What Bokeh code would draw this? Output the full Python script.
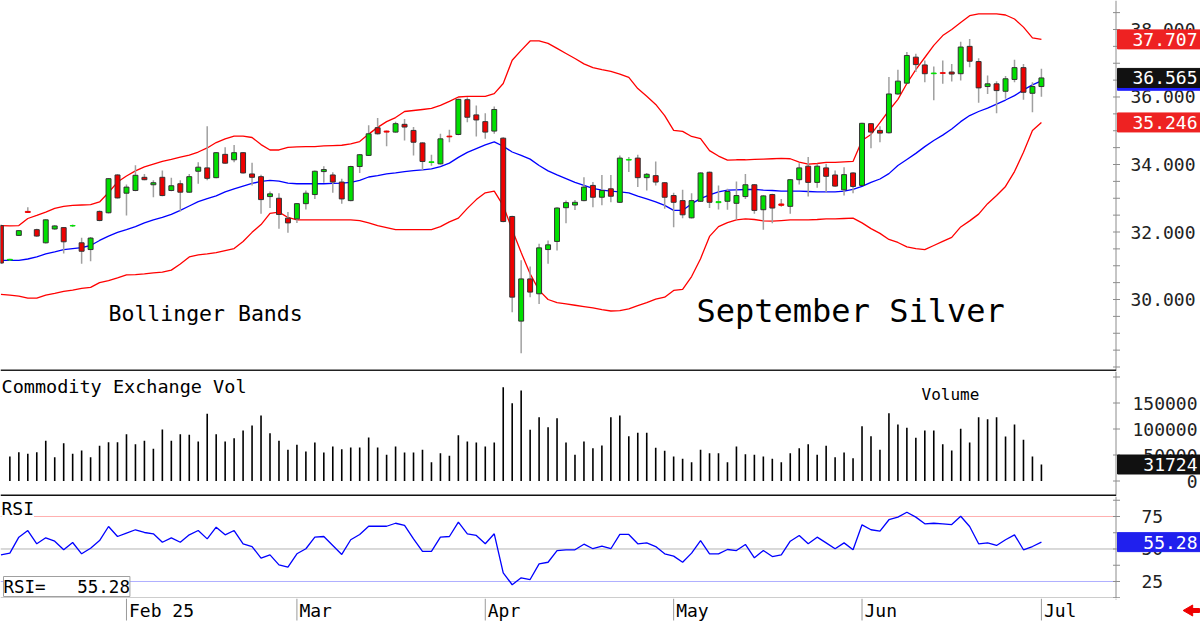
import math
from bokeh.plotting import figure
from bokeh.layouts import column
from bokeh.models import Range1d, Label, ColumnDataSource
from bokeh.core.properties import value
from bokeh.embed import file_html
from bokeh.resources import INLINE

NAN = float("nan")

# ---------------- data ----------------
opens = [32.19, 31.17, 31.90, 32.61, 32.07, 31.68, 32.09, 32.13, 32.18, 31.68,
         31.48, 32.61, 32.57, 33.69, 33.15, 33.23, 33.62, 33.40, 33.62, 33.23,
         33.43, 33.18, 33.80, 33.90, 33.61, 34.30, 34.14, 34.35, 33.72, 33.64,
         33.05, 33.00, 32.41, 32.39, 32.84, 33.11, 33.79, 33.69, 33.48, 32.93,
         33.94, 34.27, 35.09, 34.99, 34.96, 35.19, 35.01, 34.64, 34.06, 34.02,
         34.84, 34.89, 35.92, 35.47, 35.27, 34.99, 34.78, 32.46, 29.36, 30.61,
         30.17, 31.48, 31.72, 32.72, 32.80, 32.93, 33.38, 33.03, 33.28, 32.88,
         34.13, 34.19, 33.61, 33.67, 33.46, 33.08, 32.93, 32.42, 32.91, 33.77,
         32.87, 32.91, 32.85, 33.05, 33.40, 32.66, 33.11, 32.83, 32.76, 33.55,
         33.95, 33.47, 33.90, 33.69, 33.25, 33.75, 33.38, 35.21, 35.01, 34.94,
         36.09, 36.41, 37.18, 36.95, 36.69, 36.72, 36.74, 36.69, 37.50, 37.05,
         36.31, 36.39, 36.17, 36.52, 36.87, 36.11, 36.31]
highs = [32.22, 31.21, 32.06, 32.73, 32.10, 32.38, 32.20, 32.15, 32.22, 31.83,
         31.85, 32.64, 33.60, 33.71, 33.41, 33.98, 33.72, 33.53, 33.82, 33.61,
         33.53, 33.72, 34.07, 35.13, 34.37, 34.51, 34.58, 34.37, 34.05, 33.70,
         33.20, 33.15, 32.59, 32.86, 33.23, 33.82, 33.95, 33.77, 33.58, 33.96,
         34.31, 35.16, 35.38, 35.01, 35.27, 35.35, 35.11, 34.66, 34.29, 34.91,
         35.03, 35.95, 35.99, 35.75, 35.52, 35.72, 34.81, 32.48, 31.16, 30.98,
         31.65, 31.75, 32.73, 32.93, 32.95, 33.62, 33.48, 33.69, 33.69, 34.27,
         34.22, 34.29, 33.75, 34.09, 33.48, 33.16, 33.25, 33.15, 33.77, 33.79,
         33.38, 33.28, 33.50, 33.72, 33.42, 33.09, 33.13, 32.98, 33.57, 34.04,
         34.22, 34.02, 34.02, 33.82, 33.92, 33.77, 35.24, 35.23, 35.13, 36.59,
         36.81, 37.33, 37.28, 37.08, 36.90, 37.08, 36.98, 37.64, 37.72, 37.15,
         36.64, 36.47, 36.62, 37.10, 36.98, 36.44, 36.84]
lows = [31.05, 31.15, 31.88, 32.56, 31.86, 31.66, 32.07, 31.36, 32.15, 31.06,
        31.13, 32.32, 32.55, 32.99, 32.49, 33.21, 33.53, 33.03, 33.06, 33.21,
        32.61, 33.16, 33.43, 33.53, 33.59, 34.02, 34.07, 33.73, 33.38, 32.54,
        32.71, 32.10, 31.98, 32.27, 32.67, 32.98, 33.46, 33.16, 32.84, 32.91,
        33.75, 34.25, 34.89, 34.54, 34.94, 34.71, 34.27, 33.82, 33.96, 34.00,
        34.66, 34.87, 35.25, 34.83, 34.76, 34.91, 32.29, 29.62, 28.41, 30.07,
        29.87, 31.06, 31.45, 32.26, 32.65, 32.91, 32.73, 32.79, 32.88, 32.86,
        33.78, 33.33, 33.23, 33.38, 32.69, 32.14, 32.41, 32.40, 32.89, 32.71,
        32.67, 32.66, 32.36, 32.98, 32.54, 32.07, 32.26, 32.75, 32.54, 33.41,
        33.05, 33.31, 33.18, 33.34, 33.08, 33.15, 33.36, 34.48, 34.66, 34.92,
        36.07, 36.39, 36.74, 36.44, 35.90, 36.39, 36.46, 36.49, 36.88, 35.83,
        36.09, 35.52, 35.95, 36.44, 35.92, 35.55, 36.01]
closes = [31.08, 31.19, 32.04, 32.58, 31.88, 32.36, 32.18, 31.71, 32.19, 31.43,
          31.82, 32.34, 33.58, 33.01, 33.33, 33.68, 33.55, 33.46, 33.08, 33.37,
          33.18, 33.64, 33.92, 33.59, 34.35, 34.04, 34.35, 33.75, 33.62, 32.96,
          33.13, 32.52, 32.27, 32.84, 33.15, 33.80, 33.85, 33.48, 32.98, 33.94,
          34.29, 34.91, 34.91, 34.96, 35.21, 35.11, 34.66, 34.09, 34.08, 34.76,
          34.82, 35.93, 35.40, 35.32, 34.96, 35.63, 32.31, 30.07, 30.61, 30.22,
          31.53, 31.62, 32.71, 32.87, 32.88, 33.33, 33.03, 33.23, 33.06, 34.19,
          34.15, 33.61, 33.71, 33.48, 33.03, 32.88, 32.51, 32.93, 33.75, 32.88,
          32.90, 33.20, 33.08, 33.40, 32.64, 33.07, 32.71, 32.79, 33.55, 33.90,
          33.47, 33.95, 33.65, 33.36, 33.70, 33.35, 35.22, 34.96, 34.93, 36.09,
          36.47, 37.23, 36.96, 36.69, 36.71, 36.70, 36.68, 37.48, 37.06, 36.27,
          36.39, 36.19, 36.54, 36.87, 36.14, 36.31, 36.565]

bb_upper = [32.19, 32.18, 32.19, 32.40, 32.49, 32.59, 32.70, 32.76, 32.79, 32.80,
            32.81, 32.89, 33.17, 33.48, 33.66, 33.81, 33.93, 34.01, 34.09, 34.15,
            34.22, 34.28, 34.37, 34.49, 34.65, 34.76, 34.84, 34.84, 34.80, 34.59,
            34.43, 34.43, 34.51, 34.52, 34.53, 34.53, 34.55, 34.56, 34.57, 34.61,
            34.68, 34.90, 35.10, 35.27, 35.39, 35.57, 35.60, 35.63, 35.66, 35.75,
            35.87, 36.00, 36.02, 36.02, 36.02, 36.10, 36.40, 37.09, 37.38, 37.66,
            37.66, 37.59, 37.44, 37.29, 37.14, 36.98, 36.87, 36.81, 36.76, 36.68,
            36.58, 36.25, 36.02, 35.78, 35.45, 35.01, 34.98, 34.83, 34.77, 34.41,
            34.25, 34.13, 34.14, 34.14, 34.15, 34.16, 34.17, 34.18, 34.17, 34.07,
            34.01, 34.03, 34.06, 34.06, 34.08, 34.09, 34.71, 34.89, 35.24, 35.60,
            35.93, 36.40, 36.81, 37.17, 37.53, 37.82, 38.00, 38.21, 38.41, 38.46,
            38.46, 38.46, 38.43, 38.31, 38.07, 37.75, 37.707]
bb_mid = [31.16, 31.16, 31.16, 31.20, 31.26, 31.35, 31.41, 31.48, 31.51, 31.54,
          31.60, 31.75, 31.88, 31.99, 32.07, 32.16, 32.27, 32.36, 32.43, 32.52,
          32.64, 32.77, 32.90, 32.99, 33.07, 33.19, 33.28, 33.36, 33.44, 33.50,
          33.53, 33.51, 33.45, 33.43, 33.43, 33.43, 33.43, 33.44, 33.45, 33.47,
          33.53, 33.63, 33.67, 33.72, 33.75, 33.79, 33.82, 33.84, 33.87, 33.94,
          34.04, 34.21, 34.36, 34.47, 34.58, 34.67, 34.54, 34.37, 34.27, 34.16,
          33.97, 33.81, 33.69, 33.58, 33.47, 33.38, 33.29, 33.24, 33.21, 33.19,
          33.16, 33.06, 32.98, 32.89, 32.79, 32.64, 32.64, 32.84, 32.99, 33.10,
          33.19, 33.24, 33.25, 33.26, 33.26, 33.24, 33.23, 33.21, 33.21, 33.21,
          33.20, 33.19, 33.19, 33.19, 33.21, 33.26, 33.35, 33.47, 33.57, 33.73,
          33.97, 34.15, 34.33, 34.53, 34.71, 34.87, 35.05, 35.27, 35.45, 35.57,
          35.67, 35.79, 35.91, 36.04, 36.21, 36.36, 36.48]
bb_lower = [30.15, 30.13, 30.10, 30.04, 30.04, 30.13, 30.18, 30.24, 30.28, 30.33,
            30.36, 30.50, 30.56, 30.64, 30.73, 30.74, 30.76, 30.79, 30.81, 30.87,
            31.05, 31.26, 31.32, 31.35, 31.39, 31.45, 31.51, 31.72, 31.99, 32.22,
            32.55, 32.59, 32.43, 32.36, 32.36, 32.36, 32.36, 32.36, 32.36, 32.36,
            32.34, 32.27, 32.19, 32.13, 32.07, 32.07, 32.07, 32.07, 32.07, 32.16,
            32.30, 32.41, 32.70, 32.96, 33.16, 33.21, 32.78, 32.07, 31.39, 30.76,
            30.27, 30.00, 29.91, 29.87, 29.83, 29.79, 29.75, 29.70, 29.66, 29.67,
            29.72, 29.82, 29.91, 30.01, 30.07, 30.27, 30.30, 30.68, 31.21, 31.87,
            32.16, 32.28, 32.36, 32.39, 32.37, 32.33, 32.32, 32.34, 32.36, 32.36,
            32.36, 32.37, 32.39, 32.39, 32.40, 32.41, 32.27, 32.10, 31.96, 31.78,
            31.69, 31.56, 31.51, 31.48, 31.60, 31.72, 31.84, 32.15, 32.33, 32.53,
            32.84, 33.08, 33.35, 33.79, 34.36, 35.01, 35.246]

volume = [NAN, 47100, 55400, 52300, 55400, 77300, 45800, 72700, 52300, 58700,
          45800, 67700, 74600, 74600, 90000, 70800, 77300, 61900, 99000, 77300,
          90000, 88800, 76000, 129200, 90000, 76000, 82300, 97100, 106700, 126000,
          91900, 77300, 60000, 69600, 56700, 74000, 54800, 66300, 61200, 64400,
          64400, 83700, 64400, 50400, 66300, 54800, 54800, 60000, 36200, 53500,
          48500, 88100, 76000, 74000, 66300, 74000, 180400, 149600, 174000, 98500,
          122700, 103500, 120800, 74000, 50400, 76000, 63100, 68300, 122700, 126000,
          86200, 92600, 92600, 63800, 58100, 47100, 42700, 36200, 60000, 53500,
          53500, 36200, 66300, 51600, 50400, 47100, 42700, 36200, 53500, 63100,
          70800, 50400, 67700, 45800, 54800, 43800, 105400, 86200, 60000, 130400,
          108700, 102300, 83100, 97100, 97100, 70800, 58700, 100400, 74000, 122700,
          118800, 122700, 85600, 108700, 79200, 47100, 31724]

rsi = [45.5, 46.8, 59.1, 64.2, 54.0, 58.6, 56.0, 49.4, 55.0, 46.3,
       50.6, 56.5, 67.3, 59.6, 62.2, 64.8, 62.7, 61.7, 55.2, 58.6,
       55.2, 60.9, 64.2, 57.8, 66.8, 60.9, 64.2, 54.0, 51.9, 42.9,
       45.5, 37.8, 36.0, 46.3, 50.2, 59.1, 59.6, 52.7, 45.8, 57.1,
       61.2, 67.5, 67.5, 67.5, 69.8, 68.1, 57.8, 48.1, 48.1, 59.1,
       59.6, 70.6, 61.7, 60.4, 54.0, 61.7, 31.7, 22.5, 27.8, 26.5,
       38.6, 39.8, 48.8, 49.4, 49.4, 53.7, 50.2, 52.2, 50.2, 61.2,
       61.2, 54.0, 54.7, 51.9, 46.3, 44.5, 39.8, 46.8, 56.5, 46.3,
       46.3, 49.6, 48.8, 53.5, 43.2, 48.8, 44.2, 45.5, 56.0, 60.4,
       54.0, 59.1, 54.7, 50.2, 54.7, 49.4, 68.6, 64.8, 63.7, 72.5,
       74.5, 78.3, 74.5, 69.4, 69.8, 69.4, 68.8, 75.2, 67.3, 54.0,
       54.7, 52.7, 57.1, 60.9, 49.4, 51.9, 55.28]

month_labels = ["Feb 25", "Mar", "Apr", "May", "Jun", "Jul"]
month_index = [14, 33, 54, 75, 96, 116]

price_ticks = [30, 32, 34, 36, 38]
price_tick_labels = ["30.000", "32.000", "34.000", "36.000", "38.000"]
price_minor = [28.0, 28.5, 29.0, 29.5, 30.5, 31.0, 31.5, 32.5, 33.0, 33.5, 34.5,
               35.0, 35.5, 36.5, 37.0, 37.5, 38.5]
vol_ticks = [0, 50000, 100000, 150000]
vol_tick_labels = ["0", "50000", "100000", "150000"]
vol_minor = [200000]
rsi_ticks = [25, 50, 75]
rsi_tick_labels = ["25", "50", "75"]
rsi_minor = [12.5, 37.5, 62.5, 87.5]

last_close = closes[-1]
last_volume = volume[-1]
last_rsi = rsi[-1]

# ---------------- layout constants ----------------
FONT = "DejaVu Sans Mono"
PAGE_W = 1200
BAR_PX = 8.97          # pixels per trading day
FIRST_PX = 0.4         # pixel position of the first bar
AXIS_PX = 1115.5       # pixel position of the right-hand scale line
X_START = -FIRST_PX / BAR_PX
X_END = X_START + PAGE_W / BAR_PX
H_PRICE, H_VOL, H_RSI, H_DATE = 371, 125, 102, 25
TOP_PRICE, TOP_VOL, TOP_RSI = 0, 371, 496
PRICE_RANGE = (27.867, 38.859)
VOL_RANGE = (-29800, 210600)
RSI_RANGE = (11.92, 90.38)

UP = "#00e000"
DOWN = "#ee0000"
WICK = "#a0a0a0"
EDGE = "#333333"
BAND = "#ff0000"
MID = "#0000ff"
AXIS_C = "#8c8c8c"
TXT = "#222222"


def xpx(px):
    return X_START + px / BAR_PX


def ypx(px, rng, top, height):
    lo, hi = rng
    return hi - (px - top) / height * (hi - lo)


XR = Range1d(X_START, X_END)
AXIS_X = xpx(AXIS_PX)


def make_fig(height, rng):
    p = figure(width=PAGE_W, height=height, x_range=XR, y_range=Range1d(*rng),
               output_backend="svg", toolbar_location=None, tools="", title=None,
               x_axis_location=None, y_axis_location=None, min_border=0,
               background_fill_color="white", border_fill_color="white",
               outline_line_color=None)
    p.xgrid.visible = False
    p.ygrid.visible = False
    return p


def draw_scale(p, rng, major, labels, minor, label_px, align):
    p.segment(x0=[AXIS_X], y0=[rng[0]], x1=[AXIS_X], y1=[rng[1]], line_color=AXIS_C, line_width=1)
    ticks = list(major) + list(minor)
    p.segment(x0=[xpx(AXIS_PX - 3)] * len(ticks), y0=ticks,
              x1=[xpx(AXIS_PX + 4)] * len(ticks), y1=ticks, line_color=AXIS_C, line_width=1)
    p.text(x=[xpx(label_px)] * len(major), y=major, text=labels,
           text_font=value(FONT), text_font_size=value("18px"), text_color=TXT,
           text_align=align, text_baseline="middle")


def tag(p, yval, text, bg):
    p.rect(x=[xpx(1159)], y=[yval], width=84, height=19, width_units="screen",
           height_units="screen", fill_color=bg, line_color=bg)
    if text:
        p.text(x=[xpx(1197)], y=[yval], text=[text], text_font=value(FONT),
               text_font_size=value("18px"), text_color="white",
               text_align="right", text_baseline="middle")


def separator(p, rng, top, height, page_y, color, width):
    yy = ypx(page_y, rng, top, height)
    p.segment(x0=[X_START], y0=[yy], x1=[AXIS_X], y1=[yy], line_color=color, line_width=width)


n = len(closes)
idx = list(range(n))

# ---------------- price panel ----------------
p1 = make_fig(H_PRICE, PRICE_RANGE)
fills = [UP if c >= o else DOWN for o, c in zip(opens, closes)]
edges = [EDGE if abs(c - o) > 0.045 else f for o, c, f in zip(opens, closes, fills)]
csrc = ColumnDataSource(dict(
    x=idx, high=highs, low=lows,
    top=[max(o, c) for o, c in zip(opens, closes)],
    bottom=[min(o, c) for o, c in zip(opens, closes)],
    fill=fills, edge=edges))

p1.line(idx, bb_upper, line_color=BAND, line_width=1.3)
p1.line(idx, bb_lower, line_color=BAND, line_width=1.3)
p1.line(idx, bb_mid, line_color=MID, line_width=1.3)
p1.segment(x0="x", y0="low", x1="x", y1="high", source=csrc, line_color=WICK, line_width=1.5)
p1.vbar(x="x", width=0.55, top="top", bottom="bottom", source=csrc,
        fill_color="fill", line_color="edge", line_width=1)

p1.add_layout(Label(x=xpx(108), y=ypx(313, PRICE_RANGE, TOP_PRICE, H_PRICE),
                    text="Bollinger Bands", text_font=FONT, text_font_size="21.5px",
                    text_color="black", text_baseline="middle"))
p1.add_layout(Label(x=xpx(696), y=ypx(310, PRICE_RANGE, TOP_PRICE, H_PRICE),
                    text="September Silver", text_font=FONT, text_font_size="32px",
                    text_color="black", text_baseline="middle"))

draw_scale(p1, PRICE_RANGE, price_ticks, price_tick_labels, price_minor, 1130, "left")
separator(p1, PRICE_RANGE, TOP_PRICE, H_PRICE, 370, "#222222", 2)
tag(p1, bb_upper[-1], "%.3f" % bb_upper[-1], "#ee2222")
tag(p1, bb_lower[-1], "%.3f" % bb_lower[-1], "#ee2222")
tag(p1, bb_mid[-1], "", "#1f1fff")
tag(p1, last_close, "%.3f" % last_close, "#111111")

# ---------------- volume panel ----------------
p2 = make_fig(H_VOL, VOL_RANGE)
p2.segment(x0=idx, y0=[0] * n, x1=idx, y1=volume, line_color="black", line_width=1.6)
p2.add_layout(Label(x=xpx(1), y=ypx(375, VOL_RANGE, TOP_VOL, H_VOL),
                    text="Commodity Exchange Vol", text_font=FONT, text_font_size="18.5px",
                    text_color="black", text_baseline="top"))
p2.add_layout(Label(x=xpx(921), y=ypx(394, VOL_RANGE, TOP_VOL, H_VOL),
                    text="Volume", text_font=FONT, text_font_size="16px",
                    text_color="black", text_baseline="middle"))
draw_scale(p2, VOL_RANGE, vol_ticks, vol_tick_labels, vol_minor, 1197, "right")
separator(p2, VOL_RANGE, TOP_VOL, H_VOL, 495, "#111111", 2)
tag(p2, last_volume, "%d" % last_volume, "#111111")

# ---------------- RSI panel ----------------
p3 = make_fig(H_RSI, RSI_RANGE)
p3.segment(x0=[X_START] * 3, y0=[75, 50, 25], x1=[AXIS_X] * 3, y1=[75, 50, 25],
           line_color=["#ffb0b0", "#b4b4b4", "#b0b0ff"], line_width=1)
p3.line(idx, rsi, line_color=MID, line_width=1.3)
draw_scale(p3, RSI_RANGE, rsi_ticks, rsi_tick_labels, rsi_minor, 1141, "left")
separator(p3, RSI_RANGE, TOP_RSI, H_RSI, 597.5, "#9a9a9a", 1)
p3.add_layout(Label(x=xpx(1), y=ypx(508, RSI_RANGE, TOP_RSI, H_RSI), text="RSI",
                    text_font=FONT, text_font_size="18px", text_color="black",
                    text_baseline="middle", background_fill_color="white"))
p3.add_layout(Label(x=xpx(3), y=ypx(586, RSI_RANGE, TOP_RSI, H_RSI),
                    text="RSI=\u00a0\u00a0\u00a0%.2f" % last_rsi,
                    text_font=FONT, text_font_size="17.5px", text_color="black",
                    text_baseline="middle", background_fill_color="white",
                    border_line_color="#a0a0a0"))
tag(p3, last_rsi, "%.2f" % last_rsi, "#2020ee")

# ---------------- date strip ----------------
p4 = make_fig(H_DATE, (0, H_DATE))
p4.segment(x0=month_index, y0=[H_DATE] * len(month_index), x1=month_index, y1=[3] * len(month_index),
           line_color="#9a9a9a", line_width=1)
p4.text(x=[m + 2.5 / BAR_PX for m in month_index], y=[13] * len(month_index), text=month_labels,
        text_font=value(FONT), text_font_size=value("18px"), text_color="black",
        text_align="left", text_baseline="middle")
p4.segment(x0=[AXIS_X], y0=[H_DATE], x1=[AXIS_X], y1=[H_DATE - 1], line_color=AXIS_C)
p4.scatter(x=[xpx(1189)], y=[13], marker="triangle", size=11, angle=math.pi / 2,
           fill_color="#ee0000", line_color="#ee0000")
p4.rect(x=[xpx(1195)], y=[13], width=8, height=4, width_units="screen", height_units="screen",
        fill_color="#ee0000", line_color="#ee0000")

layout = column(p1, p2, p3, p4, spacing=0)
open("out.html", "w").write(file_html(layout, INLINE))
